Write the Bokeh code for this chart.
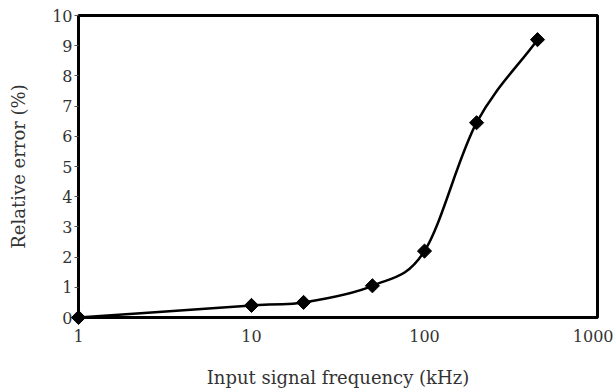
import numpy as np
from bokeh.plotting import figure
from bokeh.models import FixedTicker, Range1d
from bokeh.embed import file_html
from bokeh.resources import INLINE

freq_khz = [1, 10, 20, 50, 100, 200, 450]
rel_error = [0.0, 0.4, 0.5, 1.05, 2.2, 6.45, 9.2]
x_ticks = [1, 10, 100, 1000]
x_tick_labels = ["1", "10", "100", "1000"]
y_ticks = list(range(0, 11))

FONT = "DejaVu Serif"
TXT = "#333333"

p = figure(width=613, height=390, x_axis_type="log",
           x_range=Range1d(1, 1000), y_range=Range1d(0, 10),
           output_backend="svg", toolbar_location=None,
           min_border_left=78, min_border_right=16,
           min_border_top=15, min_border_bottom=72)

# smooth curve: Catmull-Rom -> cubic Bezier segments, in (log x, y) space
lx = np.log10(np.array(freq_khz, dtype=float))
yy = np.array(rel_error, dtype=float)
n = len(lx)
tx = np.zeros(n); ty = np.zeros(n)
for i in range(n):
    a = max(i - 1, 0); b = min(i + 1, n - 1)
    tx[i] = (lx[b] - lx[a]) / (b - a)
    ty[i] = (yy[b] - yy[a]) / (b - a)
x0 = 10 ** lx[:-1]; y0 = yy[:-1]
x1 = 10 ** lx[1:]; y1 = yy[1:]
cx0 = 10 ** (lx[:-1] + tx[:-1] / 3); cy0 = yy[:-1] + ty[:-1] / 3
cx1 = 10 ** (lx[1:] - tx[1:] / 3); cy1 = yy[1:] - ty[1:] / 3
p.bezier(x0=x0, y0=y0, x1=x1, y1=y1, cx0=cx0, cy0=cy0, cx1=cx1, cy1=cy1,
         line_color="black", line_width=2.5)

p.scatter(freq_khz, rel_error, marker="square", size=10, angle=np.pi / 4,
          color="black", level="overlay")

p.xgrid.visible = False
p.ygrid.visible = False
p.outline_line_color = "black"
p.outline_line_width = 3
p.outline_line_alpha = 1

p.xaxis.ticker = FixedTicker(ticks=x_ticks, minor_ticks=[])
p.xaxis.major_label_overrides = {t: l for t, l in zip(x_ticks, x_tick_labels)}
p.yaxis.ticker = FixedTicker(ticks=y_ticks, minor_ticks=[])

for ax in (p.xaxis[0], p.yaxis[0]):
    ax.axis_line_width = 3
    ax.axis_line_color = "black"
    ax.major_label_text_font = FONT
    ax.major_label_text_font_size = "16px"
    ax.major_label_text_color = TXT
    ax.axis_label_text_font = FONT
    ax.axis_label_text_font_size = "18px"
    ax.axis_label_text_font_style = "normal"
    ax.axis_label_text_color = TXT
    ax.minor_tick_line_color = None

p.xaxis.major_tick_line_color = None
p.xaxis.major_label_standoff = 6
p.xaxis.axis_label = "Input signal frequency (kHz)"
p.xaxis.axis_label_standoff = 22

p.yaxis.major_tick_in = 0
p.yaxis.major_tick_out = 4
p.yaxis.major_tick_line_color = "#555555"
p.yaxis.major_label_standoff = 2
p.yaxis.axis_label = "Relative error (%)"
p.yaxis.axis_label_standoff = 20

open("out.html", "w").write(file_html(p, INLINE))
